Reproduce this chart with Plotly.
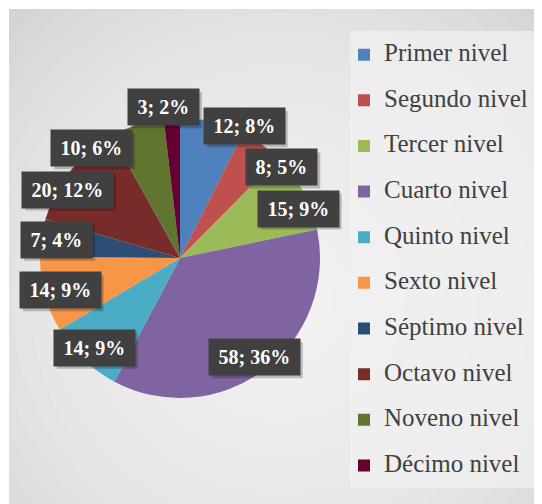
import math
import plotly.graph_objects as go

# ---------------- data ----------------
categories = ["Primer nivel", "Segundo nivel", "Tercer nivel", "Cuarto nivel",
              "Quinto nivel", "Sexto nivel", "Séptimo nivel", "Octavo nivel",
              "Noveno nivel", "Décimo nivel"]
values = [12, 8, 15, 58, 14, 14, 7, 20, 10, 3]
percent_labels = ["8%", "5%", "9%", "36%", "9%", "9%", "4%", "12%", "6%", "2%"]
colors = ["#4F81BD", "#C0504D", "#9BBB59", "#8064A2", "#4BACC6",
          "#F79646", "#2C4D75", "#772C2A", "#5F7530", "#660033"]

SERIF = "Liberation Serif, Times New Roman, serif"

# ---------------- layout geometry (figure px) ----------------
W, H = 542, 504
cx, cy, R = 172, 250, 140

def px_x(x):
    return x / W

def px_y(y):
    return 1 - y / H

fig = go.Figure()

legend_labels = [f'<span style="font-size:25px">{c}</span><br> ' for c in categories]

fig.add_trace(go.Pie(
    labels=legend_labels,
    values=values,
    sort=False,
    direction="clockwise",
    rotation=0,
    marker=dict(colors=colors, line=dict(width=0)),
    textinfo="none",
    hovertemplate="%{label}: %{value}<extra></extra>",
    domain=dict(x=[px_x(cx - R), px_x(cx + R)], y=[px_y(cy + R), px_y(cy - R)]),
))

# ---------------- data labels: boxes around the rim at slice mid-angles ----------------
total = sum(values)
texts = [f"{v}; {p}" for v, p in zip(values, percent_labels)]
cw = {";": 6.7, " ": 5.0, "%": 20.0}

def text_width(s):
    return sum(cw.get(ch, 10.0) for ch in s)

ang = []
cum = 0
for v in values:
    ang.append((cum + v / 2) / total * 2 * math.pi)
    cum += v

def label_radius(th):
    c = max(math.cos(th), 0.0)
    return 0.886 * R + 0.2 * R * c * c

def label_xy(k):
    r = label_radius(ang[k])
    return r * math.sin(ang[k]), -r * math.cos(ang[k])

bw = [text_width(t) + 19 for t in texts]
bh = 36
gap = 5
n = len(ang)
for _ in range(6000):
    moved = False
    for i in range(n):
        j = (i + 1) % n
        xi, yi = label_xy(i)
        xj, yj = label_xy(j)
        ox = (bw[i] + bw[j]) / 2 + gap - abs(xj - xi)
        oy = bh + gap - abs(yj - yi)
        if ox > 0 and oy > 0:
            ang[i] -= 0.002
            ang[j] += 0.002
            moved = True
    if not moved:
        break

pos = [label_xy(k) for k in range(n)]

shapes = []
# ---------------- background (soft radial gradient) ----------------
shapes.append(dict(type="rect", xref="paper", yref="paper", layer="below",
                   x0=px_x(1), x1=1, y0=0, y1=px_y(1),
                   fillcolor="#cbcbcb", line=dict(width=0)))
gx, gy = 272, 290
for k in range(22):
    rr = 430 - k * 18
    shapes.append(dict(type="circle", xref="paper", yref="paper", layer="below",
                       x0=px_x(gx - rr), x1=px_x(gx + rr),
                       y0=px_y(gy + rr), y1=px_y(gy - rr),
                       fillcolor="rgba(255,255,255,0.075)", line=dict(width=0)))
shapes.append(dict(type="rect", xref="paper", yref="paper", layer="below",
                   x0=0, x1=1, y0=px_y(1), y1=1.2, fillcolor="white", line=dict(width=0)))
shapes.append(dict(type="rect", xref="paper", yref="paper", layer="below",
                   x0=-0.2, x1=px_x(1), y0=-0.2, y1=1.2, fillcolor="white", line=dict(width=0)))
# legend panel
shapes.append(dict(type="rect", xref="paper", yref="paper", layer="below",
                   x0=px_x(342), x1=px_x(532), y0=px_y(480), y1=px_y(23),
                   fillcolor="rgba(240,240,240,0.75)", line=dict(width=0)))
# label shadows
for (x, y), w in zip(pos, bw):
    X, Y = cx + x + 3, cy + y + 3
    shapes.append(dict(type="rect", xref="paper", yref="paper", layer="above",
                       x0=px_x(X - w / 2), x1=px_x(X + w / 2),
                       y0=px_y(Y + bh / 2), y1=px_y(Y - bh / 2),
                       fillcolor="rgba(0,0,0,0.22)", line=dict(width=0)))

annotations = []
for (x, y), t, w in zip(pos, texts, bw):
    annotations.append(dict(
        x=px_x(cx + x), y=px_y(cy + y), xref="paper", yref="paper",
        xanchor="center", yanchor="middle",
        text=f"<b>{t}</b>", showarrow=False,
        font=dict(family=SERIF, size=20, color="white"),
        bgcolor="#404040", borderpad=5, width=w - 10, height=bh - 10,
    ))

fig.update_layout(
    width=W, height=H,
    margin=dict(l=0, r=0, t=0, b=0),
    paper_bgcolor="white",
    plot_bgcolor="rgba(0,0,0,0)",
    showlegend=True,
    legend=dict(
        x=px_x(336), y=px_y(29.5), xanchor="left", yanchor="top",
        bgcolor="rgba(0,0,0,0)", borderwidth=0,
        font=dict(family=SERIF, size=16.4, color="#404040"),
        valign="top",
    ),
    annotations=annotations,
    shapes=shapes,
)

fig.write_html("out.html")
